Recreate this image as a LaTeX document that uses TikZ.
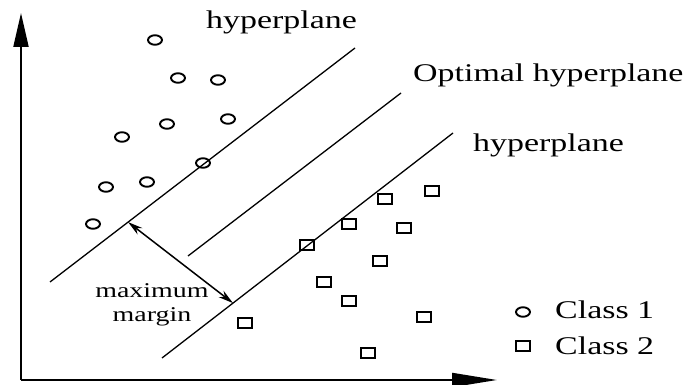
\documentclass[tikz,border=0pt]{standalone}
\usepackage{fontspec}
\setmainfont[FakeStretch=1.33]{Liberation Serif}
\usetikzlibrary{arrows.meta,shapes.geometric}

\begin{document}
\begin{tikzpicture}[x=1pt, y=-1pt,
    classone/.style={draw, ellipse, line width=1.9pt, inner sep=0pt,
        minimum width=14pt, minimum height=9.5pt},
    classtwo/.style={draw, rectangle, line width=1.9pt, inner sep=0pt,
        minimum width=13.5pt, minimum height=10pt},
    bigtext/.style={inner sep=0pt, anchor=base west, font=\fontsize{25.5}{28}\selectfont},
    smalltext/.style={inner sep=0pt, anchor=base, font=\fontsize{21}{23}\selectfont}]
    \useasboundingbox (0, 0) rectangle (689, 385);

    % draw axes
    \coordinate (origin) at (21, 380);
    \coordinate (ytop) at (21, 13);
    \coordinate (xend) at (497, 380);
    \draw[line width=2pt, -{Triangle[length=34pt, width=15pt]}] (origin) -- (ytop);
    \draw[line width=2pt, -{Triangle[length=45pt, width=14pt]}] (origin) -- (xend);

    % draw hyperplanes
    \coordinate (upA) at (50, 282);
    \coordinate (upB) at (355, 48);
    \coordinate (optA) at (188, 256);
    \coordinate (optB) at (401, 93);
    \coordinate (lowA) at (162, 358);
    \coordinate (lowB) at (453, 133);
    \draw[line width=1.3pt] (upA) -- (upB) coordinate[pos=0.256] (mtop);
    \draw[line width=1.3pt] (optA) -- (optB);
    \draw[line width=1.3pt] (lowA) -- (lowB) coordinate[pos=0.244] (mbot);

    % draw margin
    \draw[line width=1.5pt, {Stealth[length=15pt, width=8pt]}-{Stealth[length=15pt, width=8pt]}] (mtop) -- (mbot);

    % draw labels for hyperplanes
    \node[bigtext] (uplabel) at (206, 29) {hyperplane};
    \node[bigtext] (optlabel) at (413, 82) {Optimal hyperplane};
    \node[bigtext] (lowlabel) at (473, 152) {hyperplane};
    \node[smalltext] (maxlabel) at (152, 298) {maximum};
    \node[smalltext] (marginlabel) at (152, 321) {margin};

    % draw class 1 points
    \foreach \x/\y [count=\i] in {155/40, 178/78, 218/80, 167/124, 228/119,
        122/137, 203/163, 147/182, 106/187, 93/224} {
        \node[classone] (c\i) at (\x, \y) {};
    }

    % draw class 2 points
    \foreach \x/\y [count=\i] in {432/191, 385/199, 349/224, 404/228, 307/245,
        380/261, 324/282, 349/301, 245/323, 424/317, 368/353} {
        \node[classtwo] (s\i) at (\x, \y) {};
    }

    % draw legend
    \node[classone] (keyone) at (523, 312) {};
    \node[classtwo] (keytwo) at (523, 346) {};
    \node[bigtext] (classonelabel) at (555, 319) {Class 1};
    \node[bigtext] (classtwolabel) at (555, 354) {Class 2};
\end{tikzpicture}
\end{document}
